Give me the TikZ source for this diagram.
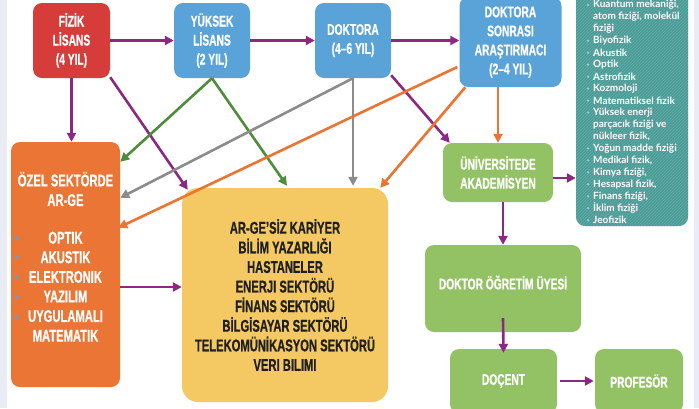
\documentclass[tikz,border=0pt]{standalone}
\usepackage{fontspec}
\setmainfont{Liberation Sans}
\newfontfamily\condfont[FakeStretch=0.66, BoldFeatures={FakeBold=0.6}]{Liberation Sans}
\newfontfamily\listfont{Lato}
\usepackage{tikz}
\usetikzlibrary{positioning}
\usetikzlibrary{arrows.meta}
\usetikzlibrary{patterns}

\definecolor{pagebg}{HTML}{E9EBF5}
\definecolor{fizikred}{HTML}{D63C3A}
\definecolor{lisblue}{HTML}{5AA3D8}
\definecolor{ozelorange}{HTML}{EB7535}
\definecolor{kariyeryellow}{HTML}{F4C964}
\definecolor{akagreen}{HTML}{93C265}
\definecolor{alanteal}{HTML}{4C9C97}
\definecolor{alanline}{HTML}{62ADA8}
\definecolor{arrpurple}{HTML}{8C2880}
\definecolor{arrgreen}{HTML}{4F8C3B}
\definecolor{arrgray}{HTML}{8C8C8C}
\definecolor{arrorange}{HTML}{EC7430}
\definecolor{bulletblue}{HTML}{8CCBE8}
\definecolor{tipblue}{HTML}{6E9CC6}

\tikzset{
  stage/.style={rectangle, rounded corners=9pt, inner sep=0pt, align=center,
    text=white, font=\condfont\bfseries\fontsize{15.5}{19}\selectfont},
  bigtext/.style={font=\condfont\bfseries\fontsize{17}{19.6}\selectfont},
  link/.style={line width=2.6pt, -{Triangle[length=9pt,width=9pt]}},
  purplink/.style={link, arrpurple},
  greenlink/.style={link, arrgreen},
  graylink/.style={link, arrgray},
  orangelink/.style={link, arrorange},
  listline/.style={anchor=west, inner sep=0pt, text=white,
    font=\listfont\bfseries\fontsize{10}{11}\selectfont}
}

\begin{document}
\begin{tikzpicture}[x=1pt,y=-1pt]
\clip (0,0) rectangle (699,408);
\fill[pagebg] (0,0) rectangle (699,408);
\fill[white] (7,0) rectangle (694,408);

% top row
\node[stage, fill=fizikred, minimum width=77pt, minimum height=75pt] (fizik) at (71.5,40.5) {FİZİK\\LİSANS\\(4 YIL)};
\node[stage, fill=lisblue, minimum width=76pt, minimum height=75pt] (yuksek) at (212,40.5) {YÜKSEK\\LİSANS\\(2 YIL)};
\node[stage, fill=lisblue, minimum width=76pt, minimum height=75pt] (doktora) at (353,40.5) {DOKTORA\\(4–6 YIL)};
\node[stage, fill=lisblue, minimum width=102pt, minimum height=90pt] (sonrasi) at (510.5,42) {DOKTORA\\SONRASI\\ARAŞTIRMACI\\(2–4 YIL)};

% research fields
\node[rectangle, rounded corners=9pt, fill=alanteal, minimum width=112pt, minimum height=240pt,
  postaction={pattern=north east lines, pattern color=alanline}] (alanlar) at (632,106) {};
\foreach \b/\t [count=\i] in {1/{Kuantum mekaniği,}, 0/{atom fiziği, molekül}, 0/{fiziği},
  1/{Biyofizik}, 1/{Akustik}, 1/{Optik}, 1/{Astrofizik}, 1/{Kozmoloji}, 1/{Matematiksel fizik},
  1/{Yüksek enerji}, 0/{parçacık fiziği ve}, 0/{nükleer fizik,}, 1/{Yoğun madde fiziği},
  1/{Medikal fizik,}, 1/{Kimya fiziği,}, 1/{Hesapsal fizik,}, 1/{Finans fiziği,},
  1/{İklim fiziği}, 1/{Jeofizik}}{
  \node[listline] (l\i) at (593,{5+(\i-1)*11.95}) {\t};
  \ifnum\b=1 \fill[bulletblue] (588,{5+(\i-1)*11.95}) circle (1.3); \fi
}

% private sector
\node[stage, bigtext, fill=ozelorange, minimum width=109pt, minimum height=245pt] (ozel) at (65.5,264.5)
  {ÖZEL SEKTÖRDE\\AR-GE\\[18pt]OPTIK\\AKUSTIK\\ELEKTRONIK\\YAZILIM\\UYGULAMALI\\MATEMATIK\\[-4pt]~};
\foreach \y in {238,257,277,297,317}{
  \fill[tipblue] (15,\y-2.6) -- (19.5,\y) -- (15,\y+2.6) -- cycle;
}

% careers without R&D
\node[stage, bigtext, text=black!88, fill=kariyeryellow, rounded corners=16pt, minimum width=206pt, minimum height=214pt] (kariyer) at (285,295)
  {AR-GE’SİZ KARİYER\\BİLİM YAZARLIĞI\\HASTANELER\\ENERJI SEKTÖRÜ\\FİNANS SEKTÖRÜ\\BİLGİSAYAR SEKTÖRÜ\\TELEKOMÜNİKASYON SEKTÖRÜ\\VERI BILIMI};

% academic path
\node[stage, fill=akagreen, minimum width=110pt, minimum height=59pt] (akademisyen) at (498,172.5) {ÜNİVERSİTEDE\\AKADEMİSYEN};
\node[stage, fill=akagreen, minimum width=156pt, minimum height=87pt] (ogretim) at (503,288.5) {\raisebox{12pt}{DOKTOR ÖĞRETİM ÜYESİ}};
\node[stage, fill=akagreen, minimum width=107pt, minimum height=64pt] (docent) at (503.5,381) {DOÇENT};
\node[stage, fill=akagreen, minimum width=88pt, minimum height=64pt] (profesor) at (639,381) {PROFESÖR};

% purple arrows
\draw[purplink] (fizik.east) -- (yuksek.west);
\draw[purplink] (yuksek.east) -- (doktora.west);
\draw[purplink] (doktora.east) -- (doktora.east -| sonrasi.west);
\draw[purplink] (fizik.south) -- (fizik.south |- ozel.north);
\draw[purplink] ([yshift=1pt]fizik.south east) -- ([xshift=6pt,yshift=-2pt]kariyer.north west);
\draw[purplink] ([yshift=3pt]doktora.south east) -- ([xshift=7pt]akademisyen.north west);
\draw[purplink] ([yshift=-22.5pt]ozel.east) -- ([yshift=-22.5pt]ozel.east -| kariyer.west);
\draw[purplink] ([yshift=-5.5pt]akademisyen.east) -- ([yshift=-5.5pt]akademisyen.east -| alanlar.west);
\draw[purplink] (akademisyen.south -| ogretim.north) -- (ogretim.north);
\draw[purplink] ([yshift=14pt]ogretim.south) -- ([yshift=-4pt]docent.north);
\draw[purplink] ([xshift=3pt]docent.east) -- ([xshift=-1pt]profesor.west);

% green arrows
\draw[greenlink] (yuksek.south) -- ([yshift=-20pt]ozel.north east);
\draw[greenlink] (yuksek.south) -- ([xshift=2pt,yshift=2pt]kariyer.north);

% gray arrows
\draw[graylink] (doktora.south) -- ([yshift=-56pt]ozel.north east);
\draw[graylink] (doktora.south) -- ([yshift=2pt]doktora.south |- kariyer.north);

% orange arrows
\draw[orangelink] ([xshift=-2pt,yshift=-25pt]sonrasi.west) -- ([xshift=-2pt,yshift=-86pt]ozel.north east);
\draw[orangelink] ([xshift=6pt]sonrasi.south west) -- ([xshift=-8pt]kariyer.north east);
\draw[orangelink] ([xshift=-12.5pt]sonrasi.south) -- ([xshift=-12.5pt]sonrasi.south |- akademisyen.north);
\end{tikzpicture}
\end{document}
